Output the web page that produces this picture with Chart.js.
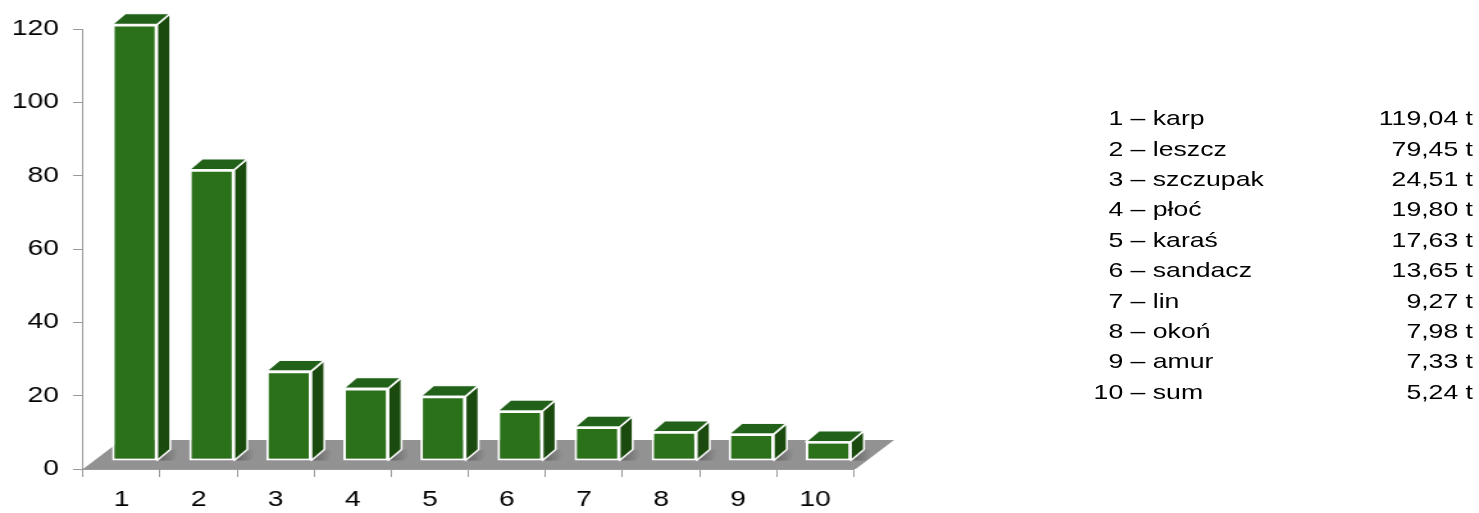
<!DOCTYPE html>
<html>
<head>
<meta charset="utf-8">
<title>Połowy ryb</title>
<script src="https://cdn.jsdelivr.net/npm/chart.js@4/dist/chart.umd.min.js"></script>
<style>
  html, body { margin: 0; padding: 0; background: #fff; overflow: hidden; }
  /* the whole figure is laid out narrow and stretched sideways */
  #stage { position: absolute; left: 0; top: 0; width: 1155.47px; height: 513px;
           transform: scaleX(1.28); transform-origin: 0 0; }
  #plot { position: absolute; left: 0; top: 0; width: 1155.47px; height: 513px; }
  #key { position: absolute; top: 103.2px; left: 822.5px; width: 328.3px;
         font-family: "Liberation Sans", Arial, sans-serif; font-size: 20.8px;
         line-height: 30.4px; color: #000; }
  #key .row { display: flex; white-space: pre; }
  #key .n { width: 55px; text-align: right; }
  #key .name { flex: 1; }
  #key .v { text-align: right; }
</style>
</head>
<body>
<div id="stage">
  <div id="plot"><canvas id="chart"></canvas></div>
  <div id="key"></div>
</div>
<script>
// ---- data ----
const categories = ['1', '2', '3', '4', '5', '6', '7', '8', '9', '10'];
const species = ['karp', 'leszcz', 'szczupak', 'płoć', 'karaś', 'sandacz', 'lin', 'okoń', 'amur', 'sum'];
const catchTonnes = [119.04, 79.45, 24.51, 19.80, 17.63, 13.65, 9.27, 7.98, 7.33, 5.24];
const yMin = 0, yMax = 120, yStep = 20;

// ---- styling ----
const FONT = '"Liberation Sans", Arial, sans-serif';
const AXIS_GREY = '#9a9a9a';
const FRONT = '#2a7119';
const TOP = '#22611a';
const SIDE = '#1a4a0e';
const FLOOR = '#929292';
const STAGE_W = 1155.47;
const PLOT_RIGHT = 666.4;

// how far the bars stand behind the front edge of the floor
const lift = { x: 10.2, y: -8 };
// receding edges of each bar and of the floor
const depth = { x: 10.2, y: -11 };
const floorDepth = { x: 30, y: -29 };

function face(ctx, pts, fill) {
  ctx.beginPath();
  ctx.moveTo(pts[0][0], pts[0][1]);
  for (let i = 1; i < pts.length; i++) ctx.lineTo(pts[i][0], pts[i][1]);
  ctx.closePath();
  ctx.fillStyle = fill;
  ctx.fill();
  ctx.stroke();
}

// floor under the bars, plus the top and side faces of every bar
const bars3d = {
  id: 'bars3d',
  beforeDatasetsDraw(chart) {
    const { ctx, chartArea, scales: { y } } = chart;
    const y0 = y.getPixelForValue(0);
    const l = chartArea.left, r = chartArea.right + 1.5;
    ctx.save();
    ctx.fillStyle = FLOOR;
    ctx.beginPath();
    ctx.moveTo(l, y0);
    ctx.lineTo(r, y0);
    ctx.lineTo(r + floorDepth.x, y0 + floorDepth.y);
    ctx.lineTo(l + floorDepth.x, y0 + floorDepth.y);
    ctx.closePath();
    ctx.fill();
    // soft shade cast on the floor beside each bar
    chart.getDatasetMeta(0).data.forEach(bar => {
      const { x, base, width } = bar.getProps(['x', 'base', 'width'], true);
      const rx = x + width / 2 + lift.x;
      const by = base + lift.y;
      const g = ctx.createLinearGradient(rx, 0, rx + 16, 0);
      g.addColorStop(0, 'rgba(40,40,40,0.45)');
      g.addColorStop(1, 'rgba(40,40,40,0)');
      ctx.fillStyle = g;
      ctx.beginPath();
      ctx.moveTo(rx, by);
      ctx.lineTo(rx + depth.x, by + depth.y);
      ctx.lineTo(rx + depth.x + 12, by + depth.y);
      ctx.lineTo(rx + 12, by);
      ctx.closePath();
      ctx.fill();
    });
    ctx.restore();
    ctx.save();
    ctx.translate(lift.x, lift.y);
  },
  afterDatasetsDraw(chart) {
    const { ctx } = chart;
    ctx.strokeStyle = 'rgba(255,255,255,0.95)';
    ctx.lineWidth = 1.6;
    ctx.lineJoin = 'round';
    chart.getDatasetMeta(0).data.forEach(bar => {
      const { x, y, base, width } = bar.getProps(['x', 'y', 'base', 'width'], true);
      const l = x - width / 2, r = x + width / 2;
      face(ctx, [[r, y], [r + depth.x, y + depth.y], [r + depth.x, base + depth.y], [r, base]], SIDE);
      face(ctx, [[l, y], [l + depth.x, y + depth.y], [r + depth.x, y + depth.y], [r, y]], TOP);
    });
    ctx.restore();
  }
};

new Chart(document.getElementById('chart'), {
  type: 'bar',
  data: {
    labels: categories,
    datasets: [{
      data: catchTonnes,
      backgroundColor: FRONT,
      borderColor: '#ffffff',
      borderWidth: 2,
      borderSkipped: false,
      categoryPercentage: 1,
      barPercentage: 0.585,
      clip: false
    }]
  },
  options: {
    responsive: true,
    maintainAspectRatio: false,
    animation: false,
    events: [],
    layout: { padding: { left: 0, top: 29, right: STAGE_W - PLOT_RIGHT, bottom: 0 } },
    plugins: { legend: { display: false }, tooltip: { enabled: false } },
    scales: {
      x: {
        offset: true,
        grid: { offset: true, drawOnChartArea: false, drawTicks: true, tickLength: 8, color: AXIS_GREY },
        border: { color: AXIS_GREY },
        ticks: { font: { family: FONT, size: 22 }, color: '#000', padding: 10, maxRotation: 0 },
        afterFit(s) { s.height = 44; }
      },
      y: {
        min: yMin, max: yMax,
        grid: { drawOnChartArea: false, drawTicks: true, tickLength: 7.8, color: AXIS_GREY },
        border: { color: AXIS_GREY },
        ticks: { stepSize: yStep, font: { family: FONT, size: 22 }, color: '#000', padding: 11 },
        afterFit(s) { s.width = 64.8; }
      }
    }
  },
  plugins: [bars3d]
});

// key listing each number with its species and catch
const key = document.getElementById('key');
categories.forEach((c, i) => {
  const row = document.createElement('div');
  row.className = 'row';
  const n = document.createElement('span'); n.className = 'n'; n.textContent = c;
  const name = document.createElement('span'); name.className = 'name'; name.textContent = ' – ' + species[i];
  const v = document.createElement('span'); v.className = 'v';
  v.textContent = catchTonnes[i].toFixed(2).replace('.', ',') + ' t';
  row.append(n, name, v);
  key.appendChild(row);
});
</script>
</body>
</html>
